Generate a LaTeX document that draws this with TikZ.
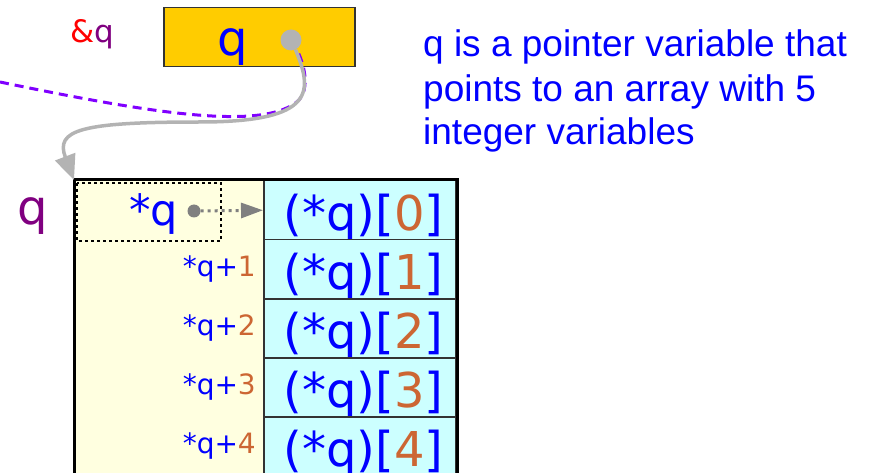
\documentclass[tikz,border=0pt]{standalone}
\usepackage{fontspec}
\setmainfont{DejaVu Sans}
\newfontfamily\descfont{Liberation Sans}
\usetikzlibrary{arrows.meta}
\definecolor{boxyellow}{HTML}{FFCC00}
\definecolor{memyellow}{HTML}{FFFFE0}
\definecolor{cellcyan}{HTML}{CCFFFF}
\definecolor{idxorange}{HTML}{CC6633}
\definecolor{ptrviolet}{HTML}{8000FF}
\definecolor{namepurple}{HTML}{800080}
\definecolor{linkgray}{HTML}{B3B3B3}
\newcommand\elemtext[1]{\hspace*{8pt}(*q)[{\color{idxorange}#1}]}
\begin{document}
\begin{tikzpicture}[x=1pt, y=-1pt,
    big/.style={font=\fontsize{48}{48}\selectfont},
    cell/.style={big, draw=black!80, line width=1.5pt, fill=cellcyan, text=blue,
      minimum width=192pt, minimum height=59pt, inner sep=0pt, anchor=north west,
      text height=45pt, text depth=4pt},
    offs/.style={anchor=east, text=blue, inner sep=0pt, font=\fontsize{28}{28}\selectfont},
    desc/.style={anchor=base west, inner sep=0pt, text=blue, font=\descfont\fontsize{37}{44}\selectfont}]
  \useasboundingbox (0,0) rectangle (873,473);

  % the pointer q and its address
  \node[draw=black!80, line width=1.5pt, fill=boxyellow, minimum width=191pt,
    minimum height=59pt, anchor=north west] (qbox) at (163,7) {};
  \node[big, text=blue] (qname) at (233,47) {q};
  \node[font=\fontsize{31}{31}\selectfont] (qaddr) at (92,34) {{\color{red}\&}{\color{namepurple}q}};
  \coordinate (qptr) at (291,40);
  \coordinate (farleft) at (0,82);

  % the memory that q points to
  \node[fill=memyellow, minimum width=189pt, minimum height=300pt, inner sep=0pt,
    anchor=north west] (qmem) at (74,180) {};
  \foreach \i in {0,...,4}
    \node[cell] (c\i) at (263,180+59*\i) {\elemtext{\i}};
  \foreach \i in {1,...,4}
    \node[offs] (off\i) at (256,210+59*\i) {*q+{\color{idxorange}\i}};
  \draw[line width=3pt] (74,480) -- (74,180) -- (457,180) -- (457,480);
  \node[big, text=namepurple] (qlabel) at (33,216) {q};

  % *q
  \draw[line width=1.2pt, dash pattern=on 3pt off 3pt] (77,183) rectangle (221,241);
  \node[font=\fontsize{43}{43}\selectfont, text=blue, anchor=east, inner sep=0pt] (derefq) at (178,214) {*q};
  \node[circle, fill=gray, inner sep=0pt, minimum size=13pt] (derefdot) at (194,211) {};
  \draw[gray, line width=3pt, dash pattern=on 3pt off 4pt,
    -{Triangle[length=22pt,width=15pt]}] (derefdot) -- (c0.west);

  % links
  \draw[ptrviolet, line width=3pt, dash pattern=on 9pt off 6pt] (farleft)
    .. controls (150,113) and (265,132) .. (299,100)
    .. controls (312,85) and (302,55) .. (qptr);
  \node[circle, fill=linkgray, inner sep=0pt, minimum size=21pt] (qdot) at (qptr) {};
  \draw[linkgray, line width=3.5pt, -{Triangle[length=25pt,width=21pt]}] (qdot.-65)
    .. controls (312,90) and (318,122) .. (200,122)
    .. controls (80,122) and (55,130) .. (qmem.north west);

  \node[desc] (desc1) at (423,57) {q is a pointer variable that};
  \node[desc] (desc2) at (423,102) {points to an array with 5};
  \node[desc] (desc3) at (423,145) {integer variables};
\end{tikzpicture}
\end{document}
